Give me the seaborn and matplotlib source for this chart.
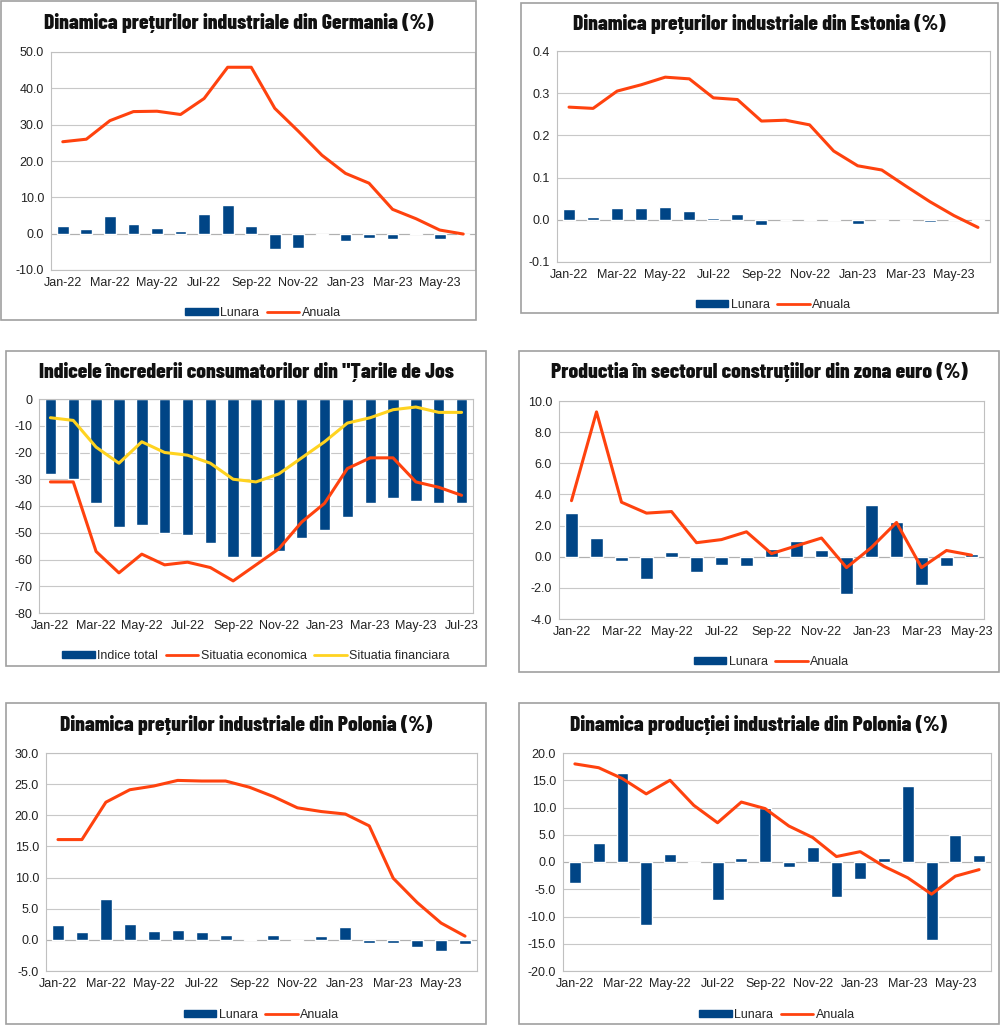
import numpy as np
import matplotlib
matplotlib.use("Agg")
import matplotlib.pyplot as plt
import seaborn as sns
from matplotlib import font_manager as fm
from matplotlib.patches import Rectangle, Patch
from matplotlib.lines import Line2D
from matplotlib.ticker import FormatStrFormatter

# ---- data -----------------------------------------------------------------
months = ["Jan-22", "Feb-22", "Mar-22", "Apr-22", "May-22", "Jun-22",
          "Jul-22", "Aug-22", "Sep-22", "Oct-22", "Nov-22", "Dec-22",
          "Jan-23", "Feb-23", "Mar-23", "Apr-23", "May-23", "Jun-23", "Jul-23"]

de_lunara = [2.1, 1.3, 4.9, 2.7, 1.6, 0.6, 5.4, 7.8, 2.1, -4.2, -3.9, -0.5,
             -2.0, -1.2, -1.5, 0.2, -1.5, -0.5]
de_anuala = [25.3, 26.0, 31.1, 33.6, 33.7, 32.8, 37.2, 45.8, 45.8, 34.5, 28.2,
             21.6, 16.6, 13.9, 6.7, 4.1, 1.0, -0.1]

ee_lunara = [0.025, 0.007, 0.028, 0.027, 0.031, 0.022, 0.004, 0.013, -0.013,
             0.0, 0.002, 0.002, -0.011, -0.002, -0.004, -0.006, -0.001, -0.004]
ee_anuala = [0.267, 0.264, 0.305, 0.320, 0.338, 0.334, 0.289, 0.285, 0.234,
             0.236, 0.225, 0.163, 0.128, 0.118, 0.080, 0.043, 0.010, -0.018]

nl_total = [-28, -30, -39, -48, -47, -50, -51, -54, -59, -59, -57, -52, -49,
            -44, -39, -37, -38, -39, -39]
nl_economica = [-31, -31, -57, -65, -58, -62, -61, -63, -68, -62, -56, -46,
                -39, -26, -22, -22, -31, -33, -36]
nl_financiara = [-7, -8, -18, -24, -16, -20, -21, -24, -30, -31, -28, -22,
                 -16, -9, -7, -4, -3, -5, -5]

ez_lunara = [2.8, 1.2, -0.3, -1.4, 0.3, -1.0, -0.5, -0.6, 0.5, 1.0, 0.4, -2.4,
             3.3, 2.2, -1.8, -0.6, 0.2]
ez_anuala = [3.6, 9.3, 3.5, 2.8, 2.9, 0.9, 1.1, 1.6, 0.2, 0.7, 1.2, -0.7,
             0.6, 2.2, -0.7, 0.4, 0.1]

plp_lunara = [2.4, 1.2, 6.6, 2.6, 1.5, 1.6, 1.3, 0.8, 0.2, 0.8, -0.2, 0.6,
              2.1, -0.5, -0.5, -1.2, -1.8, -0.6]
plp_anuala = [16.1, 16.1, 22.1, 24.1, 24.7, 25.6, 25.5, 25.5, 24.5, 23.0,
              21.2, 20.6, 20.2, 18.3, 9.9, 6.0, 2.7, 0.6]

pli_lunara = [-3.9, 3.5, 16.3, -11.6, 1.4, -0.2, -6.9, 0.7, 9.9, -0.9, 2.8,
              -6.4, -3.2, 0.7, 13.9, -14.3, 4.9, 1.2]
pli_anuala = [18.0, 17.3, 15.3, 12.5, 15.0, 10.4, 7.2, 11.0, 9.8, 6.6, 4.5,
              1.0, 1.9, -0.8, -2.9, -5.9, -2.6, -1.4]

BLUE = "#004586"
ORANGE = "#ff420e"
YELLOW = "#ffd320"
GRID = "#c8c8c8"

W, H = 1000, 1025

sns.set_style("white")
plt.rcParams["font.family"] = ["Liberation Sans", "DejaVu Sans"]

# condensed heavy face for the titles, with a fallback if it is missing
try:
    fm.findfont(fm.FontProperties(family="Barlow Condensed", weight=800),
                fallback_to_default=False)
    TITLE_FONT = dict(family=["Barlow Condensed", "DejaVu Sans"],
                      weight=800, fontsize=15.5)
except ValueError:
    TITLE_FONT = dict(family=["DejaVu Sans"], weight="bold",
                      stretch="condensed", fontsize=10.5)

fig = plt.figure(figsize=(W / 100, H / 100), dpi=100)


def px_rect(l, t, r, b):
    # pixel box -> figure fraction [left, bottom, width, height]
    return [l / W, 1 - b / H, (r - l) / W, (b - t) / H]


def panel(box, area, title, title_y, bars, lines, ylim, ystep, fmt, legend_y):
    bl, bt, br, bb = box
    fig.patches.append(Rectangle((bl / W, 1 - bb / H), (br - bl) / W, (bb - bt) / H,
                                 transform=fig.transFigure, fill=False,
                                 edgecolor="#a0a0a0", lw=1.2))
    ax = fig.add_axes(px_rect(*area))
    n = len(bars[1])
    cats = months[:n]
    sns.barplot(x=cats, y=bars[1], color=BLUE, width=0.5, saturation=1,
                ax=ax, zorder=2)
    for name, vals, col in lines:
        sns.lineplot(x=np.arange(n), y=vals, color=col, lw=2.2, ax=ax,
                     sort=False, zorder=3)
    ax.set_xlim(-0.5, n - 0.5)
    ax.set_ylim(*ylim)
    ax.set_yticks(np.arange(ylim[0], ylim[1] + ystep / 2, ystep))
    ax.yaxis.set_major_formatter(FormatStrFormatter(fmt))
    ax.set_xticks(np.arange(0, n, 2))
    ax.set_xticklabels(cats[::2])
    ax.grid(axis="y", color=GRID, lw=0.8, zorder=0)
    ax.set_axisbelow(True)
    ax.axhline(0, color="#b0b0b0", lw=0.8, zorder=1)
    for s in ax.spines.values():
        s.set_color("#c0c0c0")
        s.set_linewidth(0.8)
    ax.tick_params(axis="y", length=3, color="#b0b0b0", labelsize=9,
                   labelcolor="#222222", pad=2)
    ax.tick_params(axis="x", length=0, labelsize=9, labelcolor="#222222",
                   pad=5)
    ax.set_xlabel("")
    ax.set_ylabel("")
    fig.text((bl + br) / 2 / W, 1 - title_y / H, title, ha="center",
             va="center", color="#111111", **TITLE_FONT)
    handles = [Patch(facecolor=BLUE, edgecolor=BLUE, label=bars[0])]
    for name, vals, col in lines:
        handles.append(Line2D([0], [0], color=col, lw=2, label=name))
    fig.legend(handles=handles, loc="center", ncol=len(handles),
               bbox_to_anchor=((area[0] + area[2]) / 2 / W, 1 - legend_y / H),
               frameon=False, fontsize=9, handlelength=2.6,
               handleheight=0.55, handletextpad=0.2, columnspacing=0.6,
               borderaxespad=0)
    return ax


panel((1, 1, 476, 320), (51, 52, 475, 270),
      "Dinamica prețurilor industriale din Germania (%)", 23,
      ("Lunara", de_lunara), [("Anuala", de_anuala, ORANGE)],
      (-10, 50), 10, "%.1f", 313)

panel((521, 3, 998, 313), (557, 51, 990, 262),
      "Dinamica prețurilor industriale din Estonia (%)", 24,
      ("Lunara", ee_lunara), [("Anuala", ee_anuala, ORANGE)],
      (-0.1, 0.4), 0.1, "%.1f", 305)

panel((6, 351, 486, 666), (39, 399, 473, 613),
      "Indicele încrederii consumatorilor din \"Țarile de Jos", 372,
      ("Indice total", nl_total),
      [("Situatia economica", nl_economica, ORANGE),
       ("Situatia financiara", nl_financiara, YELLOW)],
      (-80, 0), 10, "%d", 656)

panel((519, 351, 999, 672), (559, 401, 984, 619),
      "Productia în sectorul construțiilor din zona euro (%)", 372,
      ("Lunara", ez_lunara), [("Anuala", ez_anuala, ORANGE)],
      (-4, 10), 2, "%.1f", 662)

panel((6, 703, 486, 1024), (46, 753, 477, 971),
      "Dinamica prețurilor industriale din Polonia (%)", 725,
      ("Lunara", plp_lunara), [("Anuala", plp_anuala, ORANGE)],
      (-5, 30), 5, "%.1f", 1015)

panel((519, 703, 999, 1024), (563, 753, 991, 971),
      "Dinamica producției industriale din Polonia (%)", 725,
      ("Lunara", pli_lunara), [("Anuala", pli_anuala, ORANGE)],
      (-20, 20), 5, "%.1f", 1015)

fig.savefig("out.png", dpi=100, facecolor="white")
